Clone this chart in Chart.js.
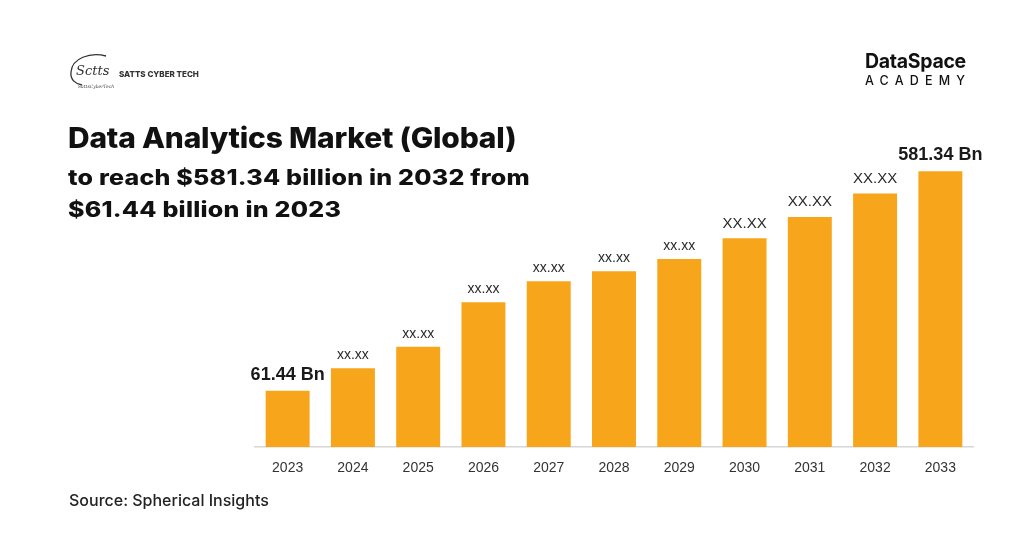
<!DOCTYPE html>
<html lang="en">
<head>
    <meta charset="UTF-8">
    <title>Data Analytics Market (Global)</title>
    <script src="https://cdn.jsdelivr.net/npm/chart.js@4.4.0/dist/chart.umd.min.js"></script>
    <style>
        *,*:after,*:before{
            box-sizing: border-box;
        }
        body{
            margin: 0;
            background: #fff;
            color: #111;
            font-family: Inter, "Liberation Sans", sans-serif;
        }
        .page{
            position: relative;
            width: 1024px;
            height: 536px;
            overflow: hidden;
        }
        #canvas{
            position: absolute;
            left: 0;
            top: 0;
        }
        .txt{
            position: absolute;
            line-height: 1;
            white-space: nowrap;
            transform-origin: left top;
        }
        .title{ left: 68px; top: 124px; font-size: 28px; font-weight: 800; letter-spacing: -0.2px; transform: scaleX(1.07); }
        .sub{ left: 68px; font-size: 21px; font-weight: 800; letter-spacing: 0.2px; transform: scaleX(1.19); }
        .source{ left: 69px; top: 492px; font-size: 16px; font-weight: 500; color: #222; }
        .ds{ left: 865px; top: 52px; font-size: 19.5px; font-weight: 700; letter-spacing: -0.3px; }
        .acad{ left: 865px; top: 75px; font-size: 12.5px; font-weight: 500; letter-spacing: 6.2px; }
        .satts{ left: 119px; top: 70px; font-size: 8px; font-weight: 800; color: #333; }
        .logo{ position: absolute; left: 66px; top: 50px; }
    </style>
</head>
<body>
<div class="page">
    <canvas id="canvas" width="1024" height="536"></canvas>

    <svg class="logo" width="52" height="48" viewBox="0 0 52 48">
        <path d="M40 6 C24 2 6 8 5 22 C4 30 10 34 16 35" fill="none" stroke="#333" stroke-width="1.3"/>
        <text x="10" y="25" font-family="DejaVu Serif" font-style="italic" font-size="13" fill="#333">Sctts</text>
        <text x="12" y="38" font-family="DejaVu Serif" font-style="italic" font-size="4.5" fill="#444">SattsCyberTech</text>
    </svg>
    <div class="txt satts">SATTS CYBER TECH</div>

    <div class="txt ds">DataSpace</div>
    <div class="txt acad">ACADEMY</div>

    <div class="txt title">Data Analytics Market (Global)</div>
    <div class="txt sub" style="top:167px">to reach $581.34 billion in 2032 from</div>
    <div class="txt sub" style="top:198.5px">$61.44 billion in 2023</div>

    <div class="txt source">Source: Spherical Insights</div>
</div>

<script type="text/javascript">
    // values in billion USD (middle years)
    var years = ['2023','2024','2025','2026','2027','2028','2029','2030','2031','2032','2033'];
    var marketSize = [61.44, 114.5, 165.7, 270.7, 320.4, 344.1, 373.5, 422.6, 473, 528.5, 581.34];
    var barLabels = ['61.44 Bn','xx.xx','xx.xx','xx.xx','xx.xx','xx.xx','xx.xx','XX.XX','XX.XX','XX.XX','581.34 Bn'];

    // picture's axis does not start at zero
    var yMin = -72;
    var yMax = 750;

    var labelPlugin = {
        id: 'barLabels',
        afterDatasetsDraw: function(chart){
            var ctx = chart.ctx;
            var bars = chart.getDatasetMeta(0).data;
            ctx.save();
            ctx.textAlign = 'center';
            ctx.textBaseline = 'alphabetic';
            bars.forEach(function(bar, i){
                var txt = barLabels[i];
                var gap = 9;
                if (txt.indexOf('Bn') > -1) {
                    ctx.font = 'bold 18px "Liberation Sans"';
                    ctx.fillStyle = '#1a1a1a';
                    gap = 11;
                } else if (txt == 'XX.XX') {
                    ctx.font = '15px "Liberation Sans"';
                    ctx.fillStyle = '#2a2a2a';
                    gap = 10.5;
                } else {
                    ctx.font = '14px "Liberation Sans"';
                    ctx.fillStyle = '#2a2a2a';
                }
                ctx.fillText(txt, bar.x, bar.y - gap);
            });
            ctx.restore();
        }
    };

    const ctx = document.getElementById('canvas').getContext('2d');
    const myChart = new Chart(ctx, {
        type: 'bar',
        data: {
            labels: years,
            datasets: [{
                label: 'Market size',
                data: marketSize,
                base: yMin,
                backgroundColor: '#F7A61C',
                categoryPercentage: 0.8,
                barPercentage: 0.842
            }]
        },
        options: {
            responsive: false,
            animation: false,
            layout: {
                padding: { left: 255, right: 51, top: 100, bottom: 0 }
            },
            plugins: {
                legend: { display: false },
                tooltip: { enabled: false }
            },
            scales: {
                x: {
                    grid: { display: false, drawTicks: false },
                    border: { display: true, color: '#d6d6d6', width: 1.5 },
                    ticks: {
                        padding: 13,
                        color: '#333',
                        font: { family: 'Liberation Sans', size: 14 }
                    },
                    afterFit: function(scale){ scale.height = 89; }
                },
                y: {
                    display: false,
                    min: yMin,
                    max: yMax
                }
            }
        },
        plugins: [labelPlugin]
    });
</script>
</body>
</html>
